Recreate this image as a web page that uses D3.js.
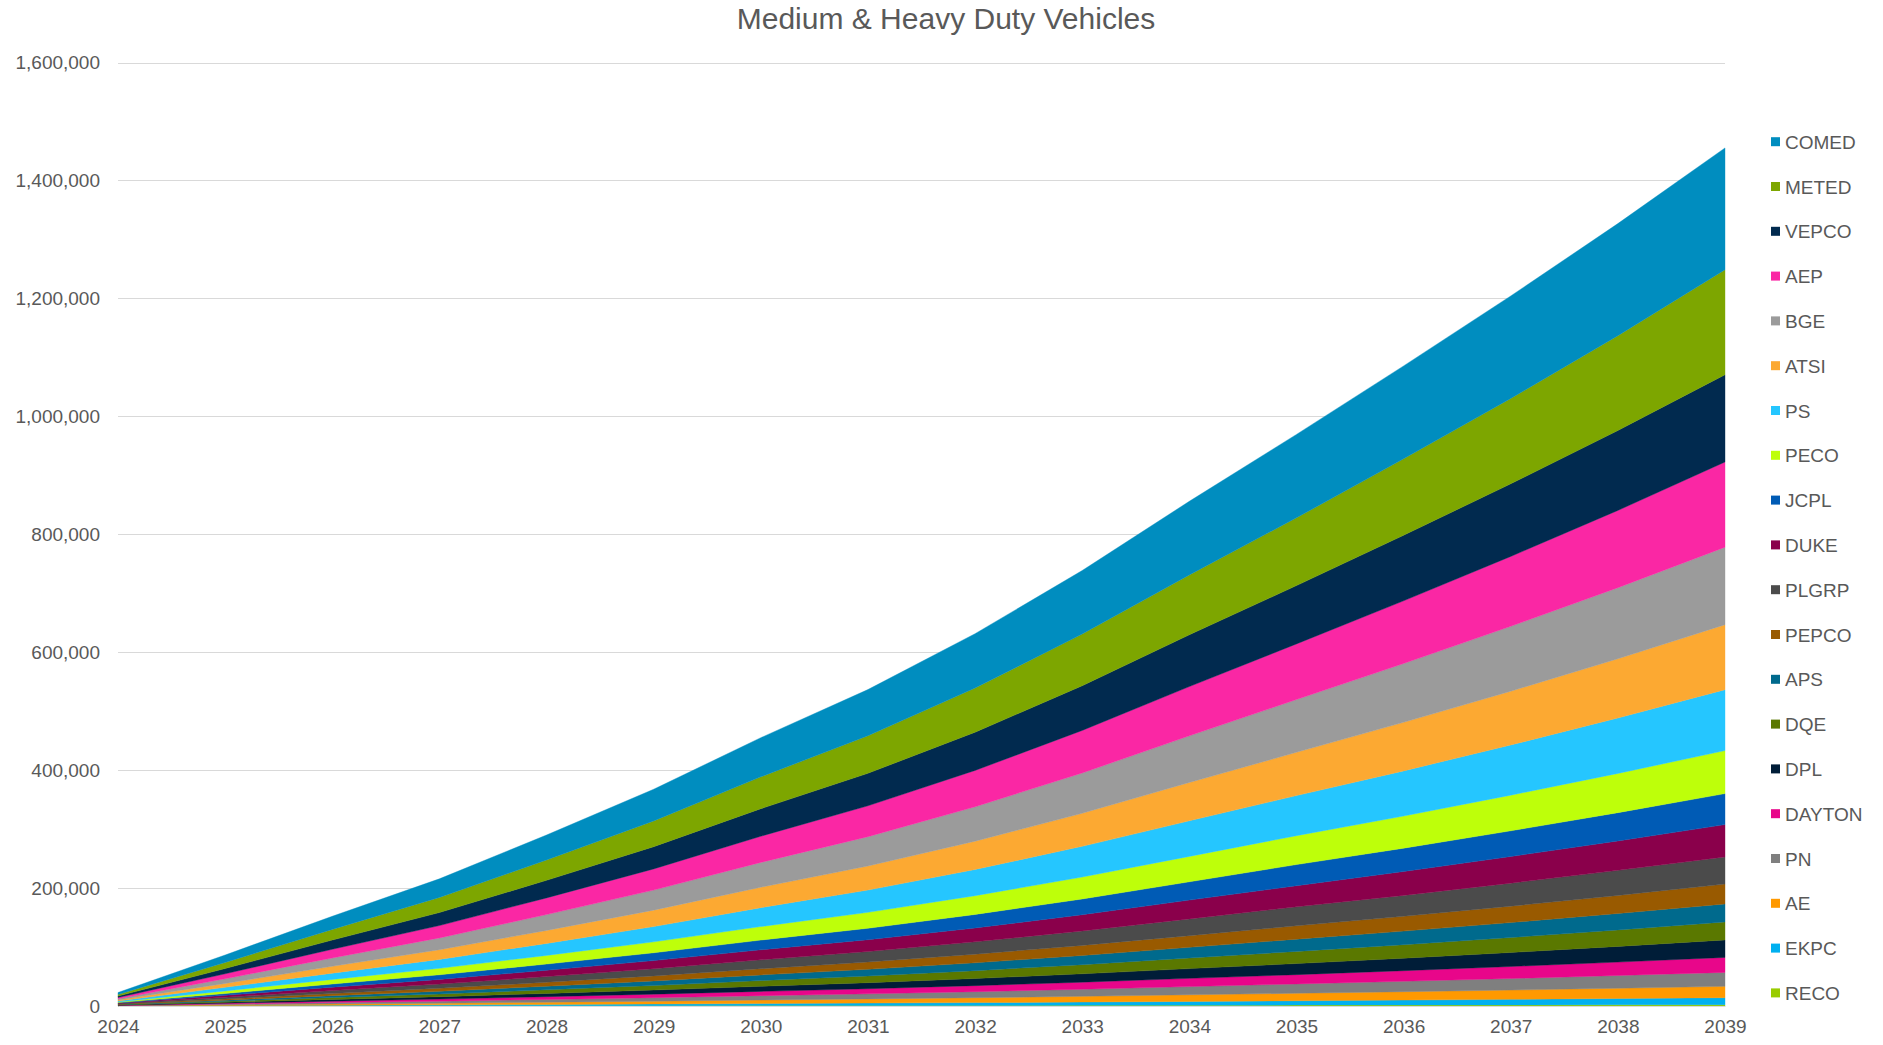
<!DOCTYPE html>
<html lang="en">

<head>
  <meta charset="UTF-8">
  <title>Medium & Heavy Duty Vehicles</title>
  <style>
    body {
      margin: 0;
      background: #fff;
    }

    text {
      font-family: "Liberation Sans", Arial, sans-serif;
      fill: #595959;
    }
  </style>
</head>

<body>

  <script src="https://d3js.org/d3.v7.min.js"></script>

  <script>
    // data
    const years = [2024, 2025, 2026, 2027, 2028, 2029, 2030, 2031, 2032, 2033, 2034, 2035, 2036, 2037, 2038, 2039];
    const yTicks = [0, 200000, 400000, 600000, 800000, 1000000, 1200000, 1400000, 1600000];

    // legend order, top of the stack first
    const zones = ['COMED', 'METED', 'VEPCO', 'AEP', 'BGE', 'ATSI', 'PS', 'PECO', 'JCPL', 'DUKE',
      'PLGRP', 'PEPCO', 'APS', 'DQE', 'DPL', 'DAYTON', 'PN', 'AE', 'EKPC', 'RECO'];

    const COMED = [3300, 12600, 22200, 31500, 42300, 53700, 66400, 78300, 92100, 107700, 124800, 141400, 157500, 173800, 190000, 206400];
    const METED = [2700, 10300, 18100, 25600, 34500, 43700, 54000, 63700, 75000, 87700, 101600, 115000, 129700, 144800, 160800, 178100];
    const VEPCO = [2300, 8900, 15600, 22100, 29800, 37700, 46700, 55100, 64800, 75800, 87800, 98900, 111200, 123100, 135600, 148000];
    const AEP = [2200, 8400, 14800, 21000, 28300, 35900, 44400, 52400, 61600, 72100, 83500, 94300, 106300, 118500, 131000, 144500];
    const BGE = [2100, 8000, 14100, 20000, 26900, 34000, 42100, 49700, 58400, 68400, 79200, 89500, 99800, 110100, 120600, 131400];
    const ATSI = [1700, 6600, 11600, 16400, 22000, 27900, 34600, 40800, 47900, 56100, 65000, 73400, 82300, 91200, 100400, 110200];
    const PS = [1600, 6100, 10700, 15200, 20400, 25900, 32100, 37800, 44500, 52000, 60300, 68000, 76600, 85100, 94000, 103400];
    const PECO = [1200, 4400, 7700, 10900, 14600, 18500, 22900, 27000, 31800, 37200, 43100, 49000, 54500, 60400, 66500, 72900];
    const JCPL = [800, 3100, 5500, 7800, 10500, 13300, 16500, 19400, 22900, 26700, 31000, 35800, 39500, 43600, 48000, 52600];
    const DUKE = [900, 3200, 5700, 8000, 10800, 13700, 17000, 20000, 23500, 27500, 31900, 35800, 40500, 45200, 49900, 54800];
    const PLGRP = [800, 2900, 5100, 7200, 9600, 12200, 15100, 17800, 21000, 24500, 28400, 32200, 35500, 39000, 42500, 46100];
    const PEPCO = [500, 2000, 3500, 5000, 6700, 8500, 10500, 12400, 14600, 17100, 19800, 22600, 25100, 27800, 30600, 33600];
    const APS = [500, 1800, 3200, 4600, 6100, 7800, 9600, 11300, 13300, 15600, 18100, 20800, 23000, 25400, 27900, 30500];
    const DQE = [500, 1800, 3200, 4500, 6100, 7700, 9600, 11300, 13300, 15500, 18000, 20600, 22900, 25300, 27900, 30500];
    const DPL = [400, 1600, 2900, 4100, 5500, 7000, 8700, 10300, 12100, 14200, 16500, 18800, 21200, 23800, 26600, 29700];
    const DAYTON = [400, 1400, 2400, 3500, 4700, 5900, 7300, 8700, 10200, 12000, 14000, 15800, 18000, 20400, 22800, 25400];
    const PN = [400, 1400, 2500, 3500, 4700, 6000, 7400, 8700, 10300, 12000, 13900, 15800, 17700, 19600, 21600, 23700];
    const AE = [300, 1100, 2000, 2800, 3800, 4800, 6000, 7000, 8300, 9700, 11200, 12700, 14200, 15700, 17400, 19200];
    const EKPC = [200, 700, 1100, 1600, 2200, 2800, 3400, 4100, 4800, 5600, 6500, 7400, 8400, 9500, 10700, 11900];
    const RECO = [40, 130, 230, 330, 440, 560, 690, 810, 950, 1100, 1300, 1500, 1600, 1800, 2000, 2200];

    const values = { COMED, METED, VEPCO, AEP, BGE, ATSI, PS, PECO, JCPL, DUKE, PLGRP, PEPCO, APS, DQE, DPL, DAYTON, PN, AE, EKPC, RECO };

    const colors = ['#008DBF', '#7DA600', '#012A4F', '#FA27A4', '#9B9B9B', '#FCA932', '#25C6FF', '#BEFF0A', '#005BB5', '#8A004B',
      '#4B4B4B', '#995A00', '#006A8D', '#5A7800', '#001D38', '#E8068A', '#7F7F7F', '#FF9900', '#00B0F0', '#99CC00'];

    let width = 1883,
      height = 1045;

    let plot = { left: 118, right: 1725, top: 62.5, bottom: 1006 };

    const svg = d3.select('body')
      .append('svg')
      .attr('width', width)
      .attr('height', height);

    let x = d3.scaleLinear()
      .domain([2024, 2039])
      .range([plot.left, plot.right]);

    let y = d3.scaleLinear()
      .domain([0, 1600000])
      .range([plot.bottom, plot.top]);

    let color = d3.scaleOrdinal(zones, colors);

    // title
    svg.append('text')
      .attr('x', 946)
      .attr('y', 29)
      .attr('text-anchor', 'middle')
      .style('font-size', '30px')
      .text('Medium & Heavy Duty Vehicles');

    // gridlines + y labels
    const yAxis = d3.axisLeft(y)
      .tickValues(yTicks)
      .tickSize(0)
      .tickPadding(18)
      .tickFormat(d3.format(','));

    svg.append('g')
      .attr('transform', `translate(${plot.left},0)`)
      .call(yAxis)
      .call(g => g.select('.domain').remove())
      .call(g => g.selectAll('.tick text').style('font-size', '19px').attr('fill', '#595959'));

    svg.append('g')
      .selectAll('line')
      .data(yTicks)
      .join('line')
      .attr('x1', plot.left)
      .attr('x2', plot.right)
      .attr('y1', d => Math.round(y(d)) + 0.5)
      .attr('y2', d => Math.round(y(d)) + 0.5)
      .attr('stroke', '#d9d9d9')
      .attr('stroke-width', 1);

    // stacked areas, RECO at the bottom
    let table = years.map((yr, i) => {
      let row = { year: yr };
      zones.forEach(z => row[z] = values[z][i]);
      return row;
    });

    let stack = d3.stack().keys(zones.slice().reverse());
    let layers = stack(table);

    let area = d3.area()
      .x(d => x(d.data.year))
      .y0(d => y(d[0]))
      .y1(d => y(d[1]));

    svg.append('g')
      .selectAll('path')
      .data(layers)
      .join('path')
      .attr('d', area)
      .attr('fill', d => color(d.key))
      .attr('stroke', d => color(d.key))
      .attr('stroke-width', 0.4);

    // x axis
    const xAxis = d3.axisBottom(x)
      .tickValues(years)
      .tickSize(0)
      .tickPadding(14)
      .tickFormat(d3.format('d'));

    svg.append('g')
      .attr('transform', `translate(0,${plot.bottom})`)
      .call(xAxis)
      .call(g => g.select('.domain').attr('stroke', '#d9d9d9'))
      .call(g => g.selectAll('.tick text').style('font-size', '19px').attr('fill', '#595959'));

    // legend
    let legend = svg.append('g')
      .selectAll('g')
      .data(zones)
      .join('g')
      .attr('transform', (d, i) => `translate(1771,${141.7 + i * 44.8})`);

    legend.append('rect')
      .attr('x', 0)
      .attr('y', -4.5)
      .attr('width', 9)
      .attr('height', 9)
      .attr('fill', d => color(d));

    legend.append('text')
      .attr('x', 14)
      .attr('y', 7)
      .style('font-size', '19px')
      .text(d => d);
  </script>
</body>

</html>
